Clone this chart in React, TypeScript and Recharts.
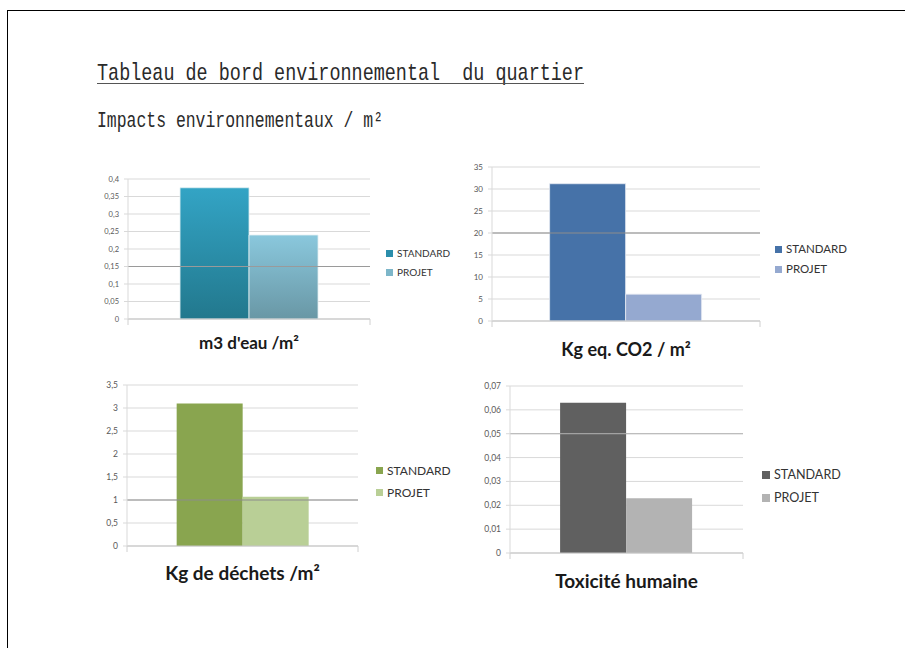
import React from 'react';
import { BarChart, Bar, XAxis, YAxis, CartesianGrid, Legend, ReferenceLine } from 'recharts';

// ---------- data ----------
const seriesNames = ['STANDARD', 'PROJET'];
const chartTitles = ["m3 d'eau /m²", 'Kg eq. CO2 / m²', 'Kg de déchets /m²', 'Toxicité humaine'];

const waterValues = [0.375, 0.24];
const co2Values = [31.2, 6.1];
const wasteValues = [3.1, 1.07];
const toxicityValues = [0.063, 0.023];

const waterTicks = [0, 0.05, 0.1, 0.15, 0.2, 0.25, 0.3, 0.35, 0.4];
const co2Ticks = [0, 5, 10, 15, 20, 25, 30, 35];
const wasteTicks = [0, 0.5, 1, 1.5, 2, 2.5, 3, 3.5];
const toxicityTicks = [0, 0.01, 0.02, 0.03, 0.04, 0.05, 0.06, 0.07];

const pageTitle = 'Tableau de bord environnemental  du quartier';
const pageSubtitle = 'Impacts environnementaux / m²';

// ---------- layout / style config ----------
type Panel = {
  id: string;
  title: string;
  values: number[];
  ticks: number[];
  darkLine: number;
  darkColor: string;
  left: number;
  top: number;
  width: number;
  height: number;
  marginTop: number;
  marginRight: number;
  yWidth: number;
  xHeight: number;
  tickFont: number;
  titleFont: number;
  titleDy: number;
  legendLeft: number;
  legendTop: number;
  legendRow: number;
  legendFont: number;
  swatch: number;
  fills: string[];
  swatches: string[];
  gradients?: { top: string; bottom: string }[];
  barStroke?: string;
};

const panels: Panel[] = [
  {
    id: 'water', title: chartTitles[0], values: waterValues, ticks: waterTicks,
    darkLine: 0.15, darkColor: '#9a9a9a',
    left: 90, top: 160, width: 380, height: 199, marginTop: 19, marginRight: 100,
    yWidth: 38, xHeight: 40, tickFont: 7.5, titleFont: 17, titleDy: 24,
    legendLeft: 296, legendTop: 83.5, legendRow: 19, legendFont: 10, swatch: 7,
    fills: ['url(#gradwater0)', 'url(#gradwater1)'],
    swatches: ['#2B8EAB', '#7DB6C9'],
    gradients: [
      { top: '#33A4C5', bottom: '#22788D' },
      { top: '#8AC8DD', bottom: '#6997A5' },
    ],
    barStroke: '#e3f0f4',
  },
  {
    id: 'co2', title: chartTitles[1], values: co2Values, ticks: co2Ticks,
    darkLine: 20, darkColor: '#8c8c8c',
    left: 460, top: 150, width: 400, height: 216, marginTop: 17, marginRight: 100,
    yWidth: 32, xHeight: 45, tickFont: 8, titleFont: 18, titleDy: 29,
    legendLeft: 315, legendTop: 89, legendRow: 20, legendFont: 11.5, swatch: 7,
    fills: ['#4672A8', '#95A9D0'],
    swatches: ['#4672A8', '#95A9D0'],
    barStroke: '#e4eaf2',
  },
  {
    id: 'waste', title: chartTitles[2], values: wasteValues, ticks: wasteTicks,
    darkLine: 1, darkColor: '#8c8c8c',
    left: 90, top: 370, width: 380, height: 221, marginTop: 15, marginRight: 112,
    yWidth: 37, xHeight: 45, tickFont: 8.5, titleFont: 19, titleDy: 27,
    legendLeft: 286, legendTop: 89.7, legendRow: 22, legendFont: 12, swatch: 7,
    fills: ['#89A54F', '#B9CF96'],
    swatches: ['#89A54F', '#B9CF96'],
  },
  {
    id: 'tox', title: chartTitles[3], values: toxicityValues, ticks: toxicityTicks,
    darkLine: 0.05, darkColor: '#b4b4b4',
    left: 470, top: 370, width: 420, height: 228, marginTop: 16, marginRight: 147,
    yWidth: 40, xHeight: 45, tickFont: 8.5, titleFont: 19, titleDy: 28.5,
    legendLeft: 292, legendTop: 93.5, legendRow: 23, legendFont: 12.6, swatch: 8,
    fills: ['#606060', '#B3B3B3'],
    swatches: ['#606060', '#B3B3B3'],
  },
];

const fmt = (v: number) => String(v).replace('.', ',');

const CategoryTick = (props: any) => {
  const { x, y, width, payload, cfg } = props;
  const half = typeof width === 'number' && width > 0 ? width / 2 : (payload && payload.offset) || 0;
  return (
    <g>
      <line x1={x - half} x2={x - half} y1={y} y2={y + 6} stroke="#d0d0d0" />
      <line x1={x + half} x2={x + half} y1={y} y2={y + 6} stroke="#d0d0d0" />
      <text
        x={x}
        y={y + cfg.titleDy}
        dy="0.36em"
        textAnchor="middle"
        fontFamily="Lato, 'Open Sans', sans-serif"
        fontWeight={700}
        fontSize={cfg.titleFont}
        fill="#1a1a1a"
      >
        {payload.value}
      </text>
    </g>
  );
};

const LegendContent = (props: any) => {
  const { payload, cfg } = props;
  const items = seriesNames
    .map((name) => (payload || []).find((p: any) => p.value === name || p.dataKey === name))
    .filter(Boolean);
  return (
    <div>
      {items.map((p: any) => {
        const i = seriesNames.indexOf(p.value);
        return (
          <div
            key={p.value}
            style={{ display: 'flex', alignItems: 'center', height: cfg.legendRow }}
          >
            <span
              style={{
                display: 'inline-block',
                width: cfg.swatch,
                height: cfg.swatch,
                background: cfg.swatches[i],
              }}
            />
            <span
              style={{
                marginLeft: 4,
                fontFamily: "Lato, 'Open Sans', sans-serif",
                fontSize: cfg.legendFont,
                color: '#333333',
                lineHeight: 1,
                whiteSpace: 'nowrap',
              }}
            >
              {p.value}
            </span>
          </div>
        );
      })}
    </div>
  );
};

const PanelChart = ({ cfg }: { cfg: Panel }) => {
  const row: any = { name: cfg.title };
  seriesNames.forEach((s, i) => {
    row[s] = cfg.values[i];
  });
  const data = [row];
  const max = cfg.ticks[cfg.ticks.length - 1];
  return (
    <div style={{ position: 'absolute', left: cfg.left, top: cfg.top }}>
      <BarChart
        width={cfg.width}
        height={cfg.height}
        data={data}
        margin={{ top: cfg.marginTop, right: cfg.marginRight, left: 0, bottom: 0 }}
        barGap={0}
        barCategoryGap="21.5%"
      >
        {cfg.gradients && (
          <defs>
            {cfg.gradients.map((g, i) => (
              <linearGradient key={i} id={`grad${cfg.id}${i}`} x1="0" y1="0" x2="0" y2="1">
                <stop offset="0%" stopColor={g.top} />
                <stop offset="100%" stopColor={g.bottom} />
              </linearGradient>
            ))}
          </defs>
        )}
        <CartesianGrid vertical={false} stroke="#d9d9d9" />
        <ReferenceLine y={cfg.darkLine} stroke={cfg.darkColor} ifOverflow="extendDomain" />
        <XAxis
          dataKey="name"
          interval={0}
          height={cfg.xHeight}
          axisLine={{ stroke: '#c4c4c4' }}
          tickLine={false}
          tickSize={0}
          tickMargin={0}
          tick={(p: any) => <CategoryTick {...p} cfg={cfg} />}
        />
        <YAxis
          type="number"
          domain={[0, max]}
          ticks={cfg.ticks}
          interval={0}
          width={cfg.yWidth}
          tickFormatter={fmt}
          axisLine={{ stroke: '#d9d9d9' }}
          tickLine={{ stroke: '#d9d9d9' }}
          tickSize={4}
          tickMargin={5}
          tick={{ fontSize: cfg.tickFont, fill: '#595959', fontFamily: "Lato, 'Open Sans', sans-serif" }}
        />
        <Legend
          layout="vertical"
          align="center"
          verticalAlign="middle"
          wrapperStyle={{ left: cfg.legendLeft, top: cfg.legendTop, width: 'auto' }}
          content={(p: any) => <LegendContent {...p} cfg={cfg} />}
        />
        {seriesNames.map((s, i) => (
          <Bar
            key={s}
            dataKey={s}
            name={s}
            fill={cfg.fills[i]}
            stroke={cfg.barStroke}
            strokeWidth={cfg.barStroke ? 0.8 : 0}
            isAnimationActive={false}
          />
        ))}
      </BarChart>
    </div>
  );
};

const Heading = ({
  text, x, y, length, fontSize,
}: { text: string; x: number; y: number; length: number; fontSize: number }) => (
  <g transform={`translate(${x},${y}) scale(1,1.3)`}>
    <text
      x={0}
      y={0}
      fontFamily="'Liberation Mono', 'DejaVu Sans Mono', monospace"
      fontSize={fontSize}
      fill="#2a2a2a"
      textLength={length}
      lengthAdjust="spacingAndGlyphs"
      style={{ whiteSpace: 'pre' }}
    >
      {text}
    </text>
  </g>
);

export default function App() {
  return (
    <div
      style={{
        position: 'fixed',
        left: 0,
        top: 0,
        width: 905,
        height: 648,
        background: '#ffffff',
        overflow: 'hidden',
      }}
    >
      {/* page frame */}
      <div
        style={{
          position: 'absolute',
          left: 7,
          top: 10,
          width: 905,
          height: 700,
          borderTop: '1px solid #000',
          borderLeft: '1px solid #000',
        }}
      />
      <svg width={905} height={150} style={{ position: 'absolute', left: 0, top: 0 }}>
        <Heading text={pageTitle} x={97} y={80} length={487} fontSize={18} />
        <line x1={97} x2={584} y1={83.5} y2={83.5} stroke="#555555" strokeWidth={1} />
        <Heading text={pageSubtitle} x={97} y={126.5} length={286} fontSize={16.4} />
      </svg>
      {panels.map((p) => (
        <PanelChart key={p.id} cfg={p} />
      ))}
    </div>
  );
}
